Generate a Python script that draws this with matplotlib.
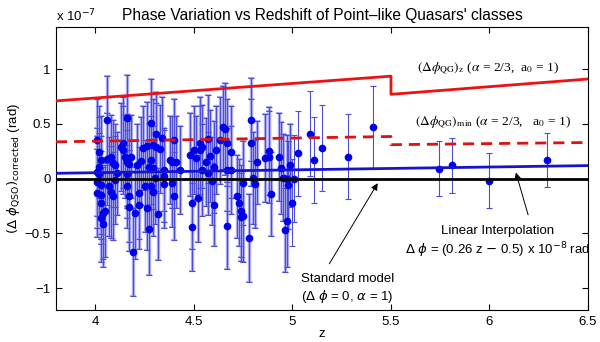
import matplotlib.pyplot as plt
import numpy as np

plt.rcParams['font.family'] = ['Liberation Sans', 'DejaVu Sans']

# quasar data, phase in units of 1e-7 rad
z = np.array([
    4.01, 4.02, 4.03, 4.02, 4.01, 4.02, 4.01, 4.01, 4.03, 4.03, 4.03, 4.04, 4.03, 4.04, 4.05,
    4.06, 4.06, 4.08, 4.07, 4.09, 4.10, 4.08, 4.10, 4.09, 4.11, 4.13, 4.14, 4.14, 4.15, 4.16,
    4.16, 4.17, 4.18, 4.16, 4.16, 4.16, 4.17, 4.17, 4.19, 4.20, 4.21, 4.22, 4.22, 4.23, 4.24,
    4.25, 4.26, 4.26, 4.27, 4.27, 4.28, 4.28, 4.29, 4.28, 4.29, 4.29, 4.30, 4.31, 4.31, 4.32,
    4.33, 4.34, 4.35, 4.35, 4.35, 4.38, 4.39, 4.39, 4.40, 4.40, 4.41, 4.43, 4.48, 4.49, 4.49,
    4.50, 4.51, 4.53, 4.53, 4.54, 4.52, 4.54, 4.56, 4.57, 4.57, 4.58, 4.59, 4.60, 4.60, 4.61,
    4.63, 4.65, 4.66, 4.67, 4.67, 4.67, 4.69, 4.69, 4.72, 4.73, 4.74, 4.74, 4.75, 4.75, 4.78,
    4.79, 4.79, 4.80, 4.81, 4.82, 4.86, 4.88, 4.88, 4.89, 4.93, 4.94, 4.95, 4.96, 4.97, 4.97,
    4.98, 4.99, 5.00, 5.01, 5.03, 5.09, 5.11, 5.15, 5.28, 5.41, 5.745, 5.81, 6.00, 6.29,
])
phi = np.array([
    0.35, 0.24, 0.17, 0.11, 0.06, 0.04, -0.03, -0.13, -0.06, -0.15, -0.22, -0.31, -0.36, -0.41, -0.30,
    0.54, 0.18, 0.20, -0.07, 0.14, 0.12, -0.12, -0.01, -0.16, 0.05, 0.29, 0.33, 0.26, 0.20, 0.55,
    0.15, 0.13, 0.20, 0.17, 0.04, -0.07, -0.16, -0.26, -0.67, -0.31, 0.12, -0.24, -0.13, 0.16, 0.28,
    -0.07, 0.30, -0.27, -0.46, 0.11, 0.51, -0.07, 0.31, 0.17, 0.10, -0.12, 0.01, 0.29, 0.41, -0.32,
    0.27, 0.37, 0.02, -0.05, 0.08, 0.17, 0.15, -0.04, 0.35, -0.16, 0.15, 0.08, 0.22, -0.22, -0.44,
    0.26, 0.19, 0.33, 0.26, 0.29, -0.18, 0.08, 0.15, 0.05, 0.36, 0.21, -0.02, -0.24, 0.11, 0.26,
    0.35, 0.47, 0.45, -0.43, 0.08, 0.33, 0.24, 0.08, -0.16, -0.22, -0.30, -0.35, -0.04, -0.34, -0.54,
    0.33, 0.54, 0.01, -0.05, 0.15, 0.19, 0.20, 0.25, -0.14, 0.20, 0.10, 0.01, -0.47, -0.39, 0.00,
    -0.06, 0.12, -0.22, 0.00, 0.23, 0.41, 0.17, 0.28, 0.20, 0.47, 0.09, 0.12, -0.02, 0.17,
])
err = np.array([
    0.38, 0.42, 0.40, 0.45, 0.40, 0.38, 0.42, 0.40, 0.45, 0.40, 0.38, 0.42, 0.40, 0.40, 0.42,
    0.40, 0.42, 0.38, 0.45, 0.40, 0.38, 0.42, 0.40, 0.40, 0.38, 0.40, 0.42, 0.40, 0.38, 0.40,
    0.42, 0.40, 0.38, 0.42, 0.40, 0.38, 0.42, 0.40, 0.40, 0.42, 0.38, 0.40, 0.42, 0.40, 0.38,
    0.42, 0.40, 0.38, 0.42, 0.40, 0.40, 0.38, 0.42, 0.40, 0.38, 0.40, 0.42, 0.40, 0.38, 0.42,
    0.40, 0.38, 0.42, 0.40, 0.38, 0.40, 0.42, 0.40, 0.38, 0.40, 0.42, 0.40, 0.38, 0.42, 0.40,
    0.40, 0.38, 0.42, 0.40, 0.38, 0.40, 0.42, 0.40, 0.38, 0.40, 0.42, 0.40, 0.38, 0.42, 0.40,
    0.40, 0.38, 0.42, 0.40, 0.38, 0.40, 0.42, 0.40, 0.38, 0.40, 0.42, 0.40, 0.38, 0.42, 0.40,
    0.40, 0.38, 0.42, 0.40, 0.38, 0.40, 0.42, 0.40, 0.38, 0.40, 0.42, 0.40, 0.38, 0.42, 0.40,
    0.40, 0.38, 0.40, 0.40, 0.39, 0.39, 0.39, 0.39, 0.39, 0.38, 0.25, 0.25, 0.25, 0.25,
])

# model curves (units of 1e-7 rad)
qg_z_x = [3.8, 5.5, 5.5, 6.5]
qg_z_y = [0.71, 0.936, 0.77, 0.91]
qg_min_x = [3.8, 5.5, 5.5, 6.5]
qg_min_y = [0.336, 0.385, 0.31, 0.33]
lin_a, lin_b = 0.26, -0.5  # Δφ = (a z + b) x 1e-8 rad

fig = plt.figure(figsize=(6, 3.42), dpi=100)
ax = fig.add_axes([0.0933, 0.0936, 0.8867, 0.8274])

# faint wide bars under the dense group
dense = z < 5
ax.errorbar(z[dense], phi[dense], yerr=err[dense], fmt='none', ecolor='#b0b0f4',
            elinewidth=2.4, capsize=2.5, capthick=1.5, zorder=1)
ax.errorbar(z, phi, yerr=err, fmt='o', color='#0000ee', ms=4.5,
            ecolor='#4c4cd4', elinewidth=0.8, capsize=2.2, capthick=0.8, zorder=2)

ax.plot(qg_z_x, qg_z_y, color='#ee1111', lw=2, zorder=3)
ax.plot(qg_min_x, qg_min_y, color='#dd1111', lw=2, ls=(0, (4, 2.5)), zorder=3)
zz = np.array([3.8, 6.5])
ax.plot(zz, (lin_a * zz + lin_b) / 10, color='#1515cc', lw=2, zorder=3)
ax.axhline(0, color='black', lw=2, zorder=3)

ax.set_xlim(3.8, 6.5)
ax.set_ylim(-1.2, 1.385)
ax.set_xticks([4, 4.5, 5, 5.5, 6, 6.5])
ax.set_xticklabels(['4', '4.5', '5', '5.5', '6', '6.5'])
ax.set_yticks([-1, -0.5, 0, 0.5, 1])
ax.set_yticklabels(['\u22121', '\u22120.5', '0', '0.5', '1'])
ax.tick_params(direction='in', top=True, right=True, labelsize=9.5, length=4, pad=4)

ax.set_xlabel('z', fontsize=9.5, labelpad=0)
ax.set_ylabel(r'$(\Delta\ \phi_{\rm QSO})_{\rm corrected}$ (rad)', fontsize=9.5, labelpad=2)
ax.set_title("Phase Variation vs Redshift of Point\u2013like Quasars' classes", fontsize=11.2, pad=5)
ax.text(0.0, 1.01, r'x 10$^{-7}$', transform=ax.transAxes, fontsize=9.5, ha='left', va='bottom')

serif = ['Liberation Serif', 'DejaVu Serif']
ax.text(5.63, 1.0, r'$(\Delta\phi_{\rm QG})_{\rm z}$ ($\alpha$ = 2/3,  a$_0$ = 1)',
        family=serif, fontsize=9.7, va='center', math_fontfamily='stix')
ax.text(5.62, 0.51, r'$(\Delta\phi_{\rm QG})_{\rm min}$ ($\alpha$ = 2/3,   a$_0$ = 1)',
        family=serif, fontsize=9.7, va='center', math_fontfamily='stix')

ax.annotate('', xy=(6.13, 0.08), xytext=(6.2, -0.355),
            arrowprops=dict(arrowstyle='-|>', color='black', lw=0.7, mutation_scale=10))
ax.text(6.04, -0.48, 'Linear Interpolation', ha='center', va='center', fontsize=9.5)
ax.text(6.04, -0.65, r'$\Delta$ $\phi$ = (0.26 z $-$ 0.5) x 10$^{-8}$ rad',
        ha='center', va='center', fontsize=9.5)

ax.annotate('', xy=(5.44, -0.02), xytext=(5.18, -0.8),
            arrowprops=dict(arrowstyle='-|>', color='black', lw=0.7, mutation_scale=10))
ax.text(5.28, -0.92, 'Standard model', ha='center', va='center', fontsize=9.5)
ax.text(5.28, -1.08, r'($\Delta$ $\phi$ = 0, $\alpha$ = 1)', ha='center', va='center', fontsize=9.5)

fig.savefig('out.png', dpi=100)
